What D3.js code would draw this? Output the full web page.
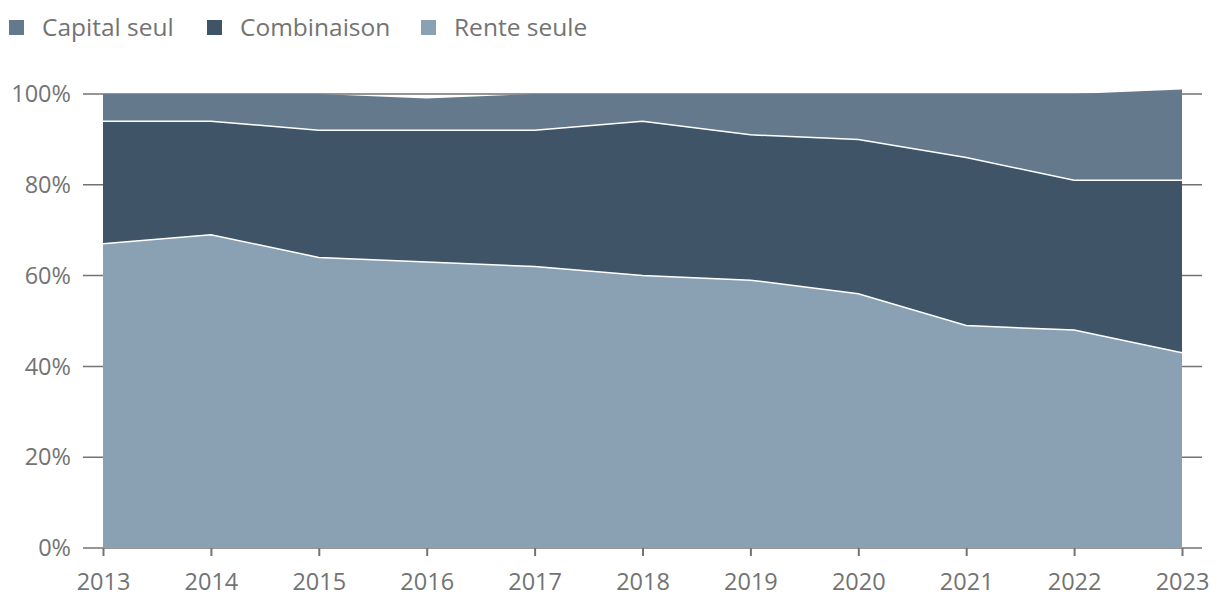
<!DOCTYPE html>
<html>
<head>
<meta charset="utf-8">
<script src="https://cdn.jsdelivr.net/npm/d3@7"></script>
<style>
  body { margin: 0; background: #fff; }
  svg { font-family: "Open Sans", "Noto Sans", sans-serif; }
</style>
</head>
<body>
<svg id="chart" width="1220" height="616"></svg>
<script>
// data (percent)
var years = [2013, 2014, 2015, 2016, 2017, 2018, 2019, 2020, 2021, 2022, 2023];
var renteSeule = [67, 69, 64, 63, 62, 60, 59, 56, 49, 48, 43];
var combinaison = [27, 25, 28, 29, 30, 34, 32, 34, 37, 33, 38];
var capitalSeul = [6, 6, 8, 7, 8, 6, 9, 10, 14, 19, 20];
var yTicks = [0, 20, 40, 60, 80, 100];

var seriesNames = ["Capital seul", "Combinaison", "Rente seule"];
var colors = { "Capital seul": "#64798c", "Combinaison": "#3f5466", "Rente seule": "#8aa0b3" };
var textColor = "#737373";
var axisColor = "#737373";

var svg = d3.select("#chart");
var margin = { left: 103, right: 38, top: 94, bottom: 68 };
var width = 1220, height = 616;

var x = d3.scaleLinear()
  .domain(d3.extent(years))
  .range([margin.left, width - margin.right]);
var y = d3.scaleLinear()
  .domain([0, 100])
  .range([height - margin.bottom, margin.top]);

var rows = years.map(function (yr, i) {
  return { year: yr, "Rente seule": renteSeule[i], "Combinaison": combinaison[i], "Capital seul": capitalSeul[i] };
});

// stacked bottom to top: rente, combinaison, capital
var stack = d3.stack().keys(["Rente seule", "Combinaison", "Capital seul"]);
var layers = stack(rows);

// -------- gridlines (behind the areas) --------
svg.append("g")
  .selectAll("line")
  .data(yTicks)
  .enter()
  .append("line")
  .attr("x1", margin.left - 20)
  .attr("x2", width - margin.right + 20)
  .attr("y1", function (d) { return y(d); })
  .attr("y2", function (d) { return y(d); })
  .attr("stroke", axisColor)
  .attr("stroke-width", 1.5);

// -------- areas --------
var area = d3.area()
  .x(function (d) { return x(d.data.year); })
  .y0(function (d) { return y(d[0]); })
  .y1(function (d) { return y(d[1]); });

svg.append("g")
  .selectAll("path")
  .data(layers)
  .enter()
  .append("path")
  .attr("d", area)
  .attr("fill", function (d) { return colors[d.key]; });

// white boundaries between layers
var topLine = d3.line()
  .x(function (d) { return x(d.data.year); })
  .y(function (d) { return y(d[1]); });

svg.append("g")
  .selectAll("path")
  .data(layers.slice(0, 2))
  .enter()
  .append("path")
  .attr("d", topLine)
  .attr("fill", "none")
  .attr("stroke", "#fff")
  .attr("stroke-width", 1.5);

// -------- y axis labels --------
svg.append("g")
  .selectAll("text")
  .data(yTicks)
  .enter()
  .append("text")
  .attr("x", 71)
  .attr("y", function (d) { return y(d); })
  .attr("dy", "0.35em")
  .attr("text-anchor", "end")
  .attr("font-size", 23.5)
  .attr("fill", textColor)
  .text(function (d) { return d + "%"; });

// -------- x axis --------
var xAxis = d3.axisBottom(x)
  .tickValues(years)
  .tickFormat(d3.format("d"))
  .tickSize(8)
  .tickPadding(17)
  .tickSizeOuter(0);

var gx = svg.append("g")
  .attr("transform", "translate(0," + y(0) + ")")
  .call(xAxis);
gx.select(".domain").remove();
gx.selectAll(".tick line").attr("stroke", axisColor).attr("stroke-width", 2);
gx.selectAll(".tick text")
  .attr("font-size", 23.5)
  .attr("font-family", "\"Open Sans\", \"Noto Sans\", sans-serif")
  .attr("fill", textColor);

// -------- legend --------
var legendX = [9, 207, 421];
var legend = svg.append("g")
  .selectAll("g")
  .data(seriesNames)
  .enter()
  .append("g")
  .attr("transform", function (d, i) { return "translate(" + legendX[i] + ",20)"; });
legend.append("rect")
  .attr("width", 15)
  .attr("height", 15)
  .attr("fill", function (d) { return colors[d]; });
legend.append("text")
  .attr("x", 33)
  .attr("y", 7.5)
  .attr("dy", "0.35em")
  .attr("font-size", 24.5)
  .attr("fill", textColor)
  .text(function (d) { return d; });
</script>
</body>
</html>
